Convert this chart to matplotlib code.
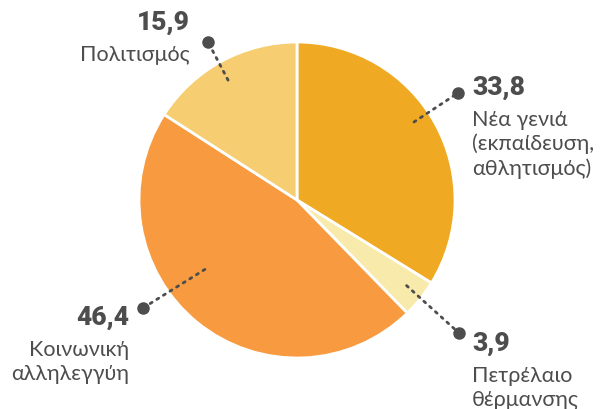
import numpy as np
import matplotlib.pyplot as plt

values = [33.8, 3.9, 46.4, 15.9]
value_labels = ["33,8", "3,9", "46,4", "15,9"]
names = [
    "Νέα γενιά\n(εκπαίδευση,\nαθλητισμός)",
    "Πετρέλαιο\nθέρμανσης",
    "Κοινωνική\nαλληλεγγύη",
    "Πολιτισμός",
]
colors = ["#F0A922", "#F8EAAA", "#F89A40", "#F6CD70"]

W, H = 603, 409
TXT = "#4D4D4D"
FONT = ["Lato", "Noto Sans", "DejaVu Sans"]
plt.rcParams["font.family"] = FONT

fig = plt.figure(figsize=(W / 100, H / 100), dpi=100)
ax = fig.add_axes([0, 0, 1, 1])

cx, cy, R = 297, H - 200, 158
wedges, _ = ax.pie(values, colors=colors, startangle=90, counterclock=False,
                   center=(cx, cy), radius=R, frame=True,
                   wedgeprops=dict(edgecolor="white", linewidth=2))
ax.set_xlim(0, W)
ax.set_ylim(0, H)
ax.set_aspect("equal")
ax.axis("off")

# anchor inside wedge (angle deg, radius fraction), dot position, text placement
anchors = [(33.7, 0.89), (-38, 0.88), (217, 0.73), (119.9, 0.875)]
dots = [(458, 93), (459, 333), (143, 308), (208, 42)]
text_pos = [(472, 95, "left"), (472, 351, "left"), (129, 325, "right"), (190, 30, "right")]

for i in range(len(values)):
    a, rf = anchors[i]
    x0 = cx + R * rf * np.cos(np.radians(a))
    y0 = cy + R * rf * np.sin(np.radians(a))
    dx, dy = dots[i]
    ax.plot([x0, dx], [y0, H - dy], linestyle=(0, (0.8, 2.0)), color=TXT, lw=2,
            solid_capstyle="round", dash_capstyle="round")
    ax.plot(dx, H - dy, "o", color=TXT, ms=8)
    tx, ty, ha = text_pos[i]
    ax.text(tx, H - ty, value_labels[i], ha=ha, va="baseline", fontsize=19,
            fontweight=900, family=["Roboto", "DejaVu Sans"], color=TXT)
    for j, line in enumerate(names[i].split("\n")):
        ax.text(tx, H - (ty + 31 + 24.5 * j), line, ha=ha, va="baseline",
                fontsize=15.5, color=TXT)

fig.savefig("out.png", dpi=100)
